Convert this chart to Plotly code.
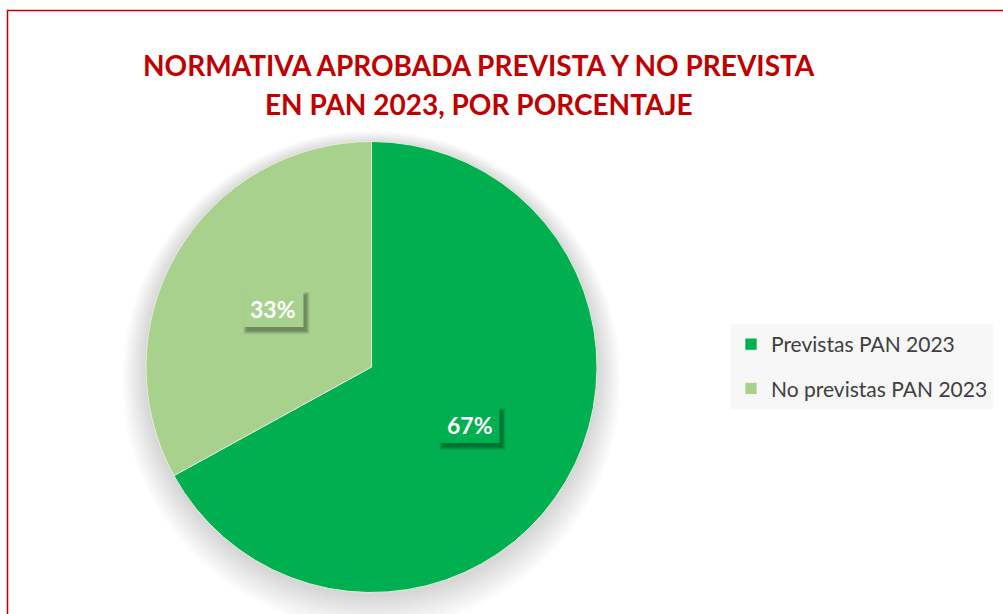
import math
import plotly.graph_objects as go

categories = ["Previstas PAN 2023", "No previstas PAN 2023"]
values = [67, 33]
colors = ["#00B050", "#A9D18E"]
title_lines = ["NORMATIVA APROBADA PREVISTA Y NO PREVISTA", "EN PAN 2023, POR PORCENTAJE"]

W, H = 1003, 614
cx, cy, r = 371.5, 367.0, 225.5  # pie centre/radius in pixels

def px_x(x):
    return x / W

def px_y(y):
    return 1 - y / H

fig = go.Figure()

fig.add_trace(go.Pie(
    labels=categories, values=values, sort=False, direction="clockwise",
    rotation=0, textinfo="none", hoverinfo="label+percent", showlegend=False,
    marker=dict(colors=colors, line=dict(color="#E2EFD9", width=1)),
    domain=dict(x=[px_x(cx - r), px_x(cx + r)], y=[px_y(cy + r), px_y(cy - r)]),
))

# legend entries (square markers), one group each to control spacing
for i, (name, col) in enumerate(zip(categories, colors)):
    fig.add_trace(go.Scatter(
        x=[None], y=[None], mode="markers", name=name, legendgroup=f"g{i}",
        marker=dict(symbol="square", size=12, color=col,
                    line=dict(color="rgba(255,255,255,0.6)", width=1)),
        hoverinfo="skip",
    ))

shapes = []
# soft shadow under the pie
for i in range(10):
    grow = 2 + i * 2.4
    off = 3 + i * 1.1
    shapes.append(dict(type="circle", xref="paper", yref="paper", layer="below",
                       x0=px_x(cx - r - grow), x1=px_x(cx + r + grow),
                       y0=px_y(cy + off + r + grow), y1=px_y(cy + off - r - grow),
                       fillcolor="rgba(0,0,0,0.014)", line=dict(width=0)))

# percentage label boxes positioned at mid-angle of each slice
total = sum(values)
start = 0.0
annotations = []
bw, bh = 60, 36
for v, col in zip(values, colors):
    frac = v / total
    mid = (start + frac / 2) * 2 * math.pi
    start += frac
    lx = cx + 0.505 * r * math.sin(mid)
    ly = cy - 0.505 * r * math.cos(mid)
    for k, a in enumerate([0.10, 0.10, 0.10, 0.08]):
        g = k * 1.0
        shapes.append(dict(type="rect", xref="paper", yref="paper", layer="above",
                           x0=px_x(lx - bw / 2 + 3 - g), x1=px_x(lx + bw / 2 + 3 + g),
                           y0=px_y(ly + bh / 2 + 4 + g), y1=px_y(ly - bh / 2 + 4 - g),
                           fillcolor=f"rgba(0,0,0,{a})", line=dict(width=0)))
    shapes.append(dict(type="rect", xref="paper", yref="paper", layer="above",
                       x0=px_x(lx - bw / 2), x1=px_x(lx + bw / 2),
                       y0=px_y(ly + bh / 2), y1=px_y(ly - bh / 2),
                       fillcolor=col, line=dict(width=0)))
    annotations.append(dict(xref="paper", yref="paper", x=px_x(lx), y=px_y(ly),
                            showarrow=False, xanchor="center", yanchor="middle",
                            text=f"<b>{round(frac*100)}%</b>",
                            font=dict(family="Lato, Open Sans, sans-serif", size=23, color="white")))

# title lines
for line, ty in zip(title_lines, [65, 104]):
    annotations.append(dict(xref="paper", yref="paper", x=px_x(479), y=px_y(ty),
                            showarrow=False, xanchor="center", yanchor="middle",
                            text=f"<b>{line}</b>",
                            font=dict(family="Lato, Open Sans, sans-serif", size=28, color="#C00000")))

# outer border
shapes.append(dict(type="rect", xref="paper", yref="paper",
                   x0=px_x(7.5), x1=1.2, y0=-0.2, y1=px_y(10.5),
                   line=dict(color="#C00000", width=1.5), fillcolor="rgba(0,0,0,0)"))

fig.update_layout(
    width=W, height=H,
    margin=dict(l=0, r=0, t=0, b=0),
    paper_bgcolor="white", plot_bgcolor="rgba(0,0,0,0)",
    xaxis=dict(visible=False), yaxis=dict(visible=False),
    legend=dict(
        x=px_x(731), y=px_y(324), xanchor="left", yanchor="top",
        bgcolor="#F7F7F7", borderwidth=0,
        font=dict(family="Lato, Open Sans, sans-serif", size=21, color="#404040"),
        traceorder="grouped", tracegroupgap=14, itemwidth=30,
    ),
    annotations=annotations,
    shapes=shapes,
)

fig.write_html("out.html", config={"displayModeBar": False},
               post_script="document.body.style.margin='0';")
